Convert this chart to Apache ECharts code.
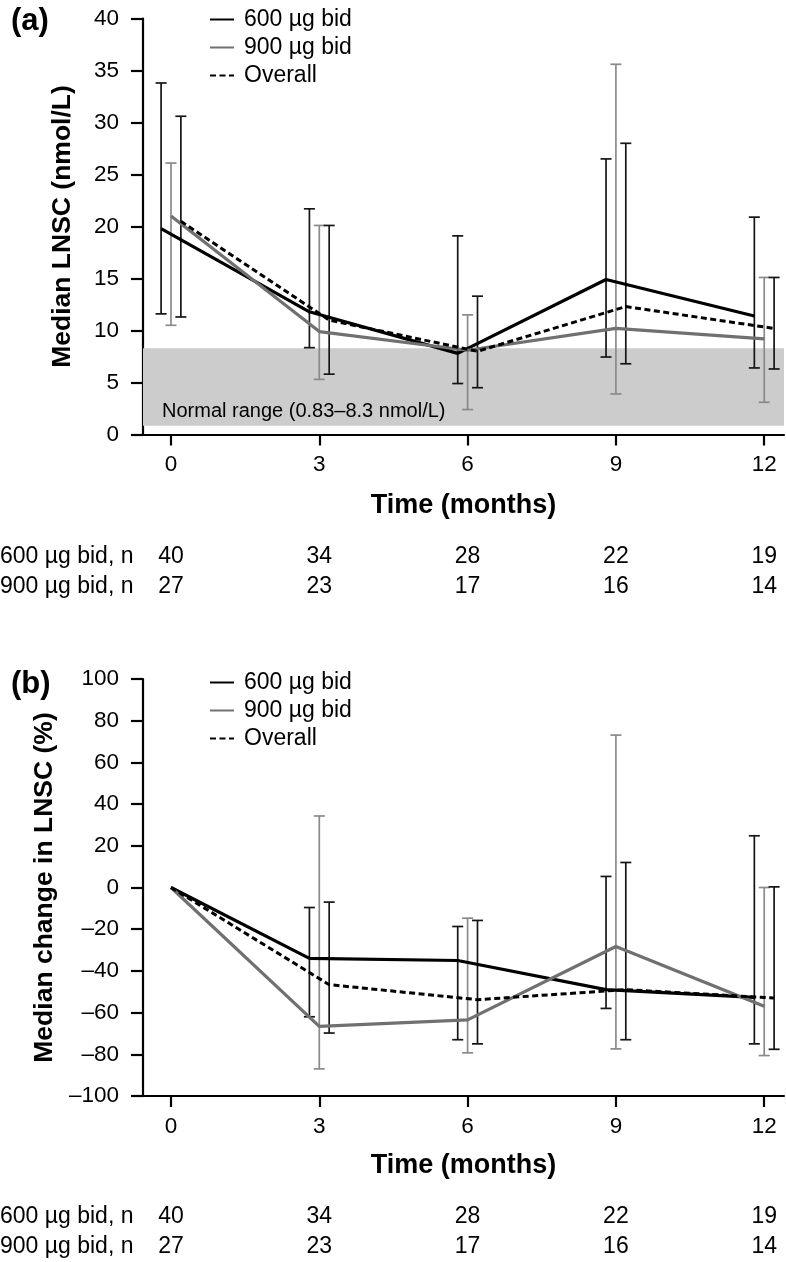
<!DOCTYPE html>
<html>
<head>
<meta charset="utf-8">
<script src="https://cdn.jsdelivr.net/npm/echarts@6/dist/echarts.min.js"></script>
<style>
html,body{margin:0;padding:0;background:#fff;}
#chart{width:786px;height:1262px;}
</style>
</head>
<body>
<div id="chart"></div>
<script>
// ---------- data ----------
const months = [0, 3, 6, 9, 12];
const nLabels600 = ['40', '34', '28', '22', '19'];
const nLabels900 = ['27', '23', '17', '16', '14'];
const seriesNames = ['600 µg bid', '900 µg bid', 'Overall'];

// Panel (a): median LNSC (nmol/L) with ranges
const a600Med = [19.8, 11.8, 7.8, 14.9, 11.4];
const a600Lo  = [11.6, 8.35, 4.9, 7.45, 6.4];
const a600Hi  = [33.8, 21.7, 19.1, 26.5, 20.9];
const a900Med = [21.0, 9.9, 8.1, 10.2, 9.2];
const a900Lo  = [10.5, 5.3, 2.4, 3.9, 3.1];
const a900Hi  = [26.1, 20.1, 11.5, 35.6, 15.1];
const aAllMed = [20.5, 11.0, 8.0, 12.3, 10.2];
const aAllLo  = [11.3, 5.8, 4.5, 6.8, 6.3];
const aAllHi  = [30.6, 20.1, 13.3, 28.0, 15.1];
const normalRange = [0.83, 8.3];

// Panel (b): median change in LNSC (%)
const b600Med = [0, -34, -35, -49, -52.7];
const b600Lo  = [null, -62, -73, -58, -75];
const b600Hi  = [null, -9.6, -18.7, 5.3, 24.8];
const b900Med = [0, -66.6, -63.5, -28.3, -57];
const b900Lo  = [null, -87, -79.3, -77.4, -80.6];
const b900Hi  = [null, 34.3, -14.7, 73.1, 0];
const bAllMed = [0, -46.6, -53.8, -49, -53];
const bAllLo  = [null, -69.8, -75, -73, -77.6];
const bAllHi  = [null, -7.0, -15.8, 12.0, 0.3];

// ---------- layout helpers ----------
const XMIN = -0.566, XMAX = 12.4;
const OFF = 0.2;
const FONT = 'Liberation Sans';
const C600 = '#000000', C900 = '#707070', CBAR_DARK = '#151515', CBAR_GRAY = '#8a8a8a';

function linePts(meds, off, zeroTogether) {
  return months.map((m, i) => [(zeroTogether && m === 0) ? 0 : m + off, meds[i]]);
}
function barPts(lo, hi, off) {
  const out = [];
  months.forEach((m, i) => { if (lo[i] != null) out.push([m + off, lo[i], hi[i]]); });
  return out;
}
function errRender(color) {
  return function (params, api) {
    const x = api.value(0);
    const p1 = api.coord([x, api.value(1)]);
    const p2 = api.coord([x, api.value(2)]);
    const w = 5.5;
    const st = { stroke: color, lineWidth: 1.7 };
    return {
      type: 'group',
      children: [
        { type: 'line', shape: { x1: p1[0], y1: p1[1], x2: p2[0], y2: p2[1] }, style: st },
        { type: 'line', shape: { x1: p1[0] - w, y1: p1[1], x2: p1[0] + w, y2: p1[1] }, style: st },
        { type: 'line', shape: { x1: p2[0] - w, y1: p2[1], x2: p2[0] + w, y2: p2[1] }, style: st }
      ]
    };
  };
}
function errSeries(name, xi, yi, lo, hi, off, color) {
  return {
    type: 'custom', name: name, xAxisIndex: xi, yAxisIndex: yi,
    renderItem: errRender(color), data: barPts(lo, hi, off),
    encode: { x: 0, y: [1, 2] }, z: 3, silent: true
  };
}
function lineSeries(name, xi, yi, data, color, dashed) {
  return {
    type: 'line', name: name, xAxisIndex: xi, yAxisIndex: yi, data: data,
    symbol: 'none', z: 5,
    lineStyle: { color: color, width: dashed ? 3 : 3.2, type: dashed ? [6, 3.5] : 'solid' },
    itemStyle: { color: color }
  };
}
function mainX(gi, nameGap) {
  return {
    gridIndex: gi, type: 'value', min: XMIN, max: XMAX,
    axisLine: { show: true, onZero: false, lineStyle: { color: '#000', width: 2.2 } },
    axisTick: { show: true, customValues: months, length: 11, lineStyle: { color: '#000', width: 2.2 } },
    axisLabel: { customValues: months, fontSize: 22.5, color: '#000', margin: 19, fontFamily: FONT },
    splitLine: { show: false },
    name: 'Time (months)', nameLocation: 'middle', nameGap: nameGap,
    nameTextStyle: { fontSize: 27, fontWeight: 'bold', color: '#000', fontFamily: FONT }
  };
}
function nX(gi, offset, labels) {
  return {
    gridIndex: gi, type: 'value', min: XMIN, max: XMAX, position: 'bottom', offset: offset,
    axisLine: { show: false }, axisTick: { show: false }, splitLine: { show: false },
    axisLabel: {
      customValues: months, fontSize: 23, color: '#000', margin: 12, fontFamily: FONT,
      formatter: v => labels[months.indexOf(v)]
    }
  };
}
function yAx(gi, min, max, interval, name, nameGap) {
  return {
    gridIndex: gi, type: 'value', min: min, max: max, interval: interval,
    axisLine: { show: true, onZero: false, lineStyle: { color: '#000', width: 2.2 } },
    axisTick: { show: true, length: 12, lineStyle: { color: '#000', width: 2.2 } },
    axisLabel: { fontSize: 22.5, color: '#000', margin: 24, fontFamily: FONT,
      formatter: v => (v < 0 ? '\u2013' + (-v) : String(v)) },
    splitLine: { show: false },
    name: name, nameLocation: 'middle', nameGap: nameGap,
    nameTextStyle: { fontSize: 26.5, fontWeight: 'bold', color: '#000', fontFamily: FONT }
  };
}
function legendAt(top) {
  return {
    data: seriesNames, orient: 'vertical', left: 209, top: top, padding: 0,
    itemWidth: 24, itemHeight: 14, itemGap: 5, selectedMode: false,
    itemStyle: { opacity: 0 },
    textStyle: { fontSize: 23, color: '#000', fontFamily: FONT, padding: [0, 0, 0, 5] }
  };
}

const aSeries600 = lineSeries(seriesNames[0], 0, 0, linePts(a600Med, -OFF, false), C600, false);
aSeries600.markArea = {
  silent: true,
  itemStyle: { color: '#cccccc' },
  label: {
    show: true, position: 'insideBottomLeft', distance: 4, padding: [0, 0, 0, 15],
    fontSize: 20, color: '#000', fontFamily: FONT
  },
  data: [[{ name: 'Normal range (0.83\u20138.3 nmol/L)', xAxis: XMIN, yAxis: normalRange[0] },
          { xAxis: XMAX, yAxis: normalRange[1] }]]
};

const option = {
  animation: false,
  backgroundColor: '#ffffff',
  textStyle: { fontFamily: FONT },
  grid: [
    { left: 143, top: 18.5, width: 641, height: 416 },
    { left: 143, top: 679, width: 641, height: 417 }
  ],
  xAxis: [
    mainX(0, 58), nX(0, 99, nLabels600), nX(0, 129, nLabels900),
    mainX(1, 56), nX(1, 97, nLabels600), nX(1, 127, nLabels900)
  ],
  yAxis: [
    yAx(0, 0, 40, 5, 'Median LNSC (nmol/L)', 67),
    yAx(1, -100, 100, 20, 'Median change in LNSC (%)', 73)
  ],
  legend: [legendAt(8), legendAt(671)],
  graphic: [
    { type: 'text', x: 11, y: 21, style: { text: '(a)', font: 'bold 31px "Liberation Sans"', fill: '#000', verticalAlign: 'middle' } },
    { type: 'text', x: 11, y: 684, style: { text: '(b)', font: 'bold 31px "Liberation Sans"', fill: '#000', verticalAlign: 'middle' } },
    { type: 'text', x: 0, y: 557, style: { text: '600 µg bid, n', font: '23px "Liberation Sans"', fill: '#000', verticalAlign: 'middle' } },
    { type: 'text', x: 0, y: 587, style: { text: '900 µg bid, n', font: '23px "Liberation Sans"', fill: '#000', verticalAlign: 'middle' } },
    { type: 'text', x: 0, y: 1217, style: { text: '600 µg bid, n', font: '23px "Liberation Sans"', fill: '#000', verticalAlign: 'middle' } },
    { type: 'text', x: 0, y: 1247, style: { text: '900 µg bid, n', font: '23px "Liberation Sans"', fill: '#000', verticalAlign: 'middle' } }
  ],
  series: [
    // panel (a)
    errSeries('e600a', 0, 0, a600Lo, a600Hi, -OFF, CBAR_DARK),
    errSeries('e900a', 0, 0, a900Lo, a900Hi, 0, CBAR_GRAY),
    errSeries('eAlla', 0, 0, aAllLo, aAllHi, OFF, CBAR_DARK),
    aSeries600,
    lineSeries(seriesNames[1], 0, 0, linePts(a900Med, 0, false), C900, false),
    lineSeries(seriesNames[2], 0, 0, linePts(aAllMed, OFF, false), C600, true),
    // panel (b)
    errSeries('e600b', 3, 1, b600Lo, b600Hi, -OFF, CBAR_DARK),
    errSeries('e900b', 3, 1, b900Lo, b900Hi, 0, CBAR_GRAY),
    errSeries('eAllb', 3, 1, bAllLo, bAllHi, OFF, CBAR_DARK),
    lineSeries(seriesNames[0], 3, 1, linePts(b600Med, -OFF, true), C600, false),
    lineSeries(seriesNames[1], 3, 1, linePts(b900Med, 0, true), C900, false),
    lineSeries(seriesNames[2], 3, 1, linePts(bAllMed, OFF, true), C600, true)
  ]
};

const chart = echarts.init(document.getElementById('chart'), null, { renderer: 'canvas' });
chart.setOption(option);
</script>
</body>
</html>
